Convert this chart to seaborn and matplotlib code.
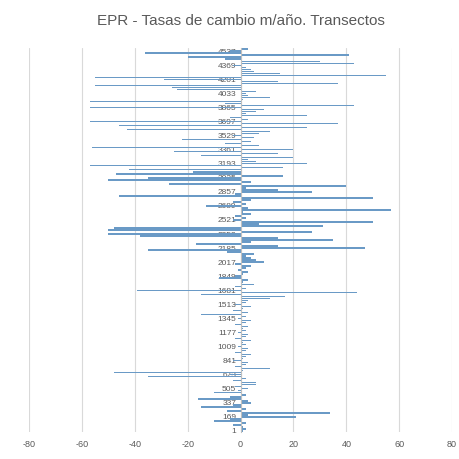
import pandas as pd
import matplotlib
matplotlib.use("Agg")
import matplotlib.pyplot as plt
import seaborn as sns

# Tasas EPR (m/año), de arriba (ultimo transecto) hacia abajo (transecto 1)
tasas_arriba_abajo = [
    3, -4, -36, 41, -20, -6, 30, 43, -3, 2,
    4, 5, 15, 55, -55, -29, 14, 37, -55, -26,
    -24, 6, 2, 3, 11, 1, -57, -6, 43, -57,
    9, 6, 2, 25, -4, 3, -57, 37, -46, 25,
    -43, 11, 7, -3, 5, -22, 4, -6, 7, -56,
    20, -25, 14, -15, 20, 3, 6, 25, -57, 16,
    -42, -18, -47, 16, -35, -50, 4, -27, 40, 2,
    14, 27, -2, -46, 50, 4, -3, 2, -13, 3,
    57, 1, 4, -2, 2, -3, 50, 7, 31, -48,
    -50, 27, -50, -38, 14, 35, 4, -17, 14, 47,
    -35, -5, 5, 2, 4, 6, 9, -2, 4, 2,
    -1, 3, 1, -2, -8, 3, 1, 5, -2, 2,
    -39, 44, -15, 17, 11, 3, 2, -2, 4, 1,
    -3, 3, -15, 2, -1, 4, 2, -2, 3, 1,
    2, -1, 3, 2, -2, 4, 1, 2, -1, 3,
    2, -2, 4, 2, 1, -3, 3, 2, -2, 11,
    1, -48, -4, -35, 2, -3, 6, 6, -2, 3,
    -1, -10, 2, -4, -16, 3, 4, -3, -15, 2,
    -5, 34, 3, 21, -4, -10, 2, -3, 1, 2,
    1,
]
tasas = tasas_arriba_abajo[::-1]
# un transecto de cada 24 (numeracion del eje)
transectos = [str(1 + 24 * i) for i in range(len(tasas))]

df = pd.DataFrame({"transecto": transectos, "tasa": tasas})
orden = transectos[::-1]

sns.set_style("white")
plt.rcParams["font.family"] = ["Liberation Sans", "DejaVu Sans"]
plt.rcParams["axes.unicode_minus"] = False

fig, ax = plt.subplots(figsize=(4.59, 4.59), dpi=100)
fig.subplots_adjust(left=0.063, right=0.985, top=0.895, bottom=0.059)

for x in range(-80, 81, 20):
    ax.axvline(x, color="#D9D9D9", lw=0.8, zorder=0)

sns.barplot(data=df, x="tasa", y="transecto", order=orden, orient="h",
            color="#5B9BD5", width=0.75, linewidth=0, ax=ax, zorder=1)

ax.set_xlim(-80, 80)
ax.set_xticks(range(-80, 81, 20))
ax.set_xticklabels([str(v) for v in range(-80, 81, 20)])

# etiqueta cada 7 categorias, desde el transecto 1
pos = [p for p in range(len(orden)) if (len(orden) - 1 - p) % 7 == 0]
ax.set_yticks(pos)
ax.set_yticklabels([orden[p] for p in pos])

for s in ["top", "right", "bottom"]:
    ax.spines[s].set_visible(False)
ax.spines["left"].set_position(("data", 0))
ax.spines["left"].set_color("#BFBFBF")
ax.spines["left"].set_linewidth(0.8)

ax.tick_params(axis="y", length=2, labelsize=6, colors="#595959", pad=1)
ax.tick_params(axis="x", length=0, labelsize=6.5, colors="#595959", pad=6)
ax.set_xlabel("")
ax.set_ylabel("")
ax.set_title("EPR - Tasas de cambio m/año. Transectos", fontsize=11,
             color="#595959", pad=17)

plt.savefig("out.png", dpi=100)
